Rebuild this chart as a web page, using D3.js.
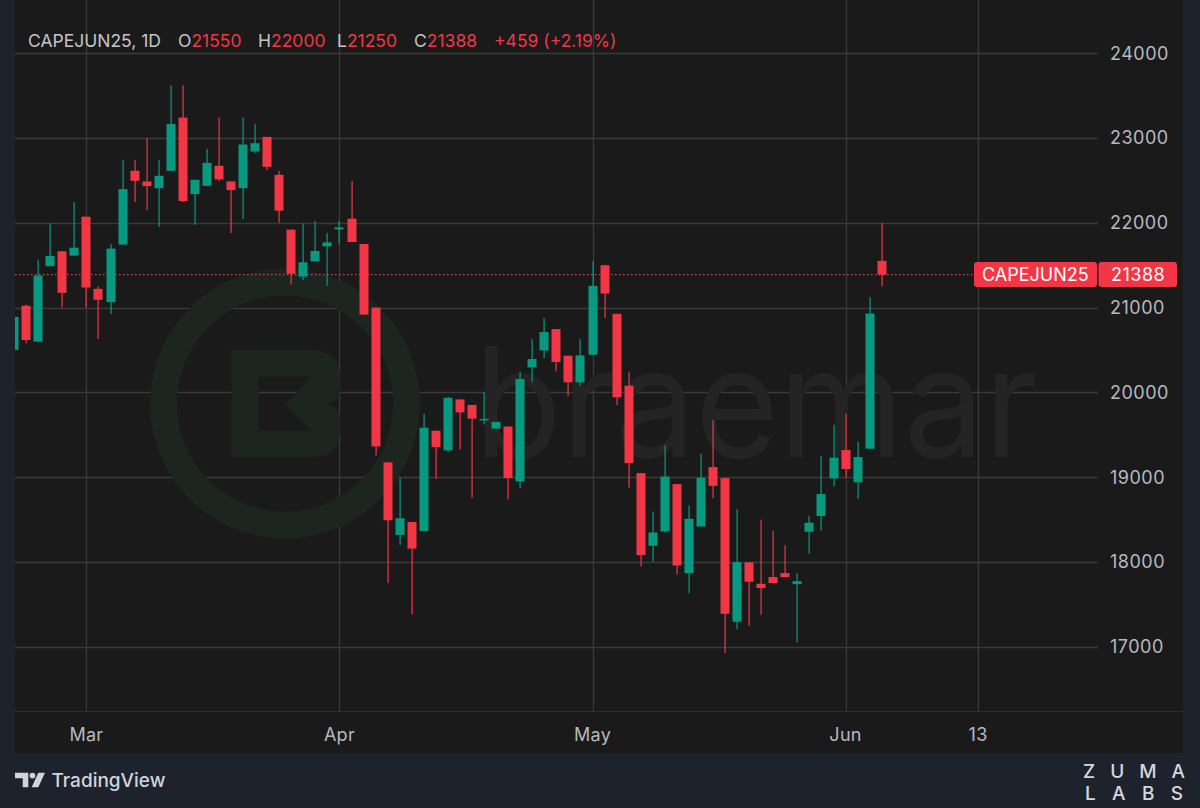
<!DOCTYPE html>
<html>
<head>
<meta charset="utf-8">
<script src="https://cdn.jsdelivr.net/npm/d3@7"></script>
<style>
body { margin: 0; background: #1e222d; }
svg { display: block; font-family: Inter, "Noto Sans", sans-serif; }
</style>
</head>
<body>
<script>
// CAPEJUN25 daily candles
const symbol = "CAPEJUN25";
const interval = "1D";

const dates = [
    "2025-02-21", "2025-02-24", "2025-02-25", "2025-02-26", "2025-02-27", "2025-02-28",
    "2025-03-03", "2025-03-04", "2025-03-05", "2025-03-06", "2025-03-07",
    "2025-03-10", "2025-03-11", "2025-03-12", "2025-03-13", "2025-03-14",
    "2025-03-17", "2025-03-18", "2025-03-19", "2025-03-20", "2025-03-21",
    "2025-03-24", "2025-03-25", "2025-03-26", "2025-03-27", "2025-03-28", "2025-03-31",
    "2025-04-01", "2025-04-02", "2025-04-03", "2025-04-04",
    "2025-04-07", "2025-04-08", "2025-04-09", "2025-04-10", "2025-04-11",
    "2025-04-14", "2025-04-15", "2025-04-16", "2025-04-17",
    "2025-04-21", "2025-04-22", "2025-04-23", "2025-04-24", "2025-04-25",
    "2025-04-28", "2025-04-29", "2025-04-30",
    "2025-05-01", "2025-05-02", "2025-05-05", "2025-05-06", "2025-05-07", "2025-05-08", "2025-05-09",
    "2025-05-12", "2025-05-13", "2025-05-14", "2025-05-15", "2025-05-16",
    "2025-05-19", "2025-05-20", "2025-05-21", "2025-05-22", "2025-05-23",
    "2025-05-27", "2025-05-28", "2025-05-29", "2025-05-30",
    "2025-06-02", "2025-06-03", "2025-06-04", "2025-06-05"
];

const opens = [
    20500, 21020, 20597, 21487, 21663, 21612,
    22071, 21220, 21064, 21742, 22612,
    22486, 22408, 22612, 23239, 22337,
    22435, 22671, 22486, 22408, 22839,
    23012, 22565, 21918, 21364, 21545, 21721,
    21921, 22047, 21749, 20999,
    19174, 18318, 18471, 18365, 19547,
    19315, 19916, 19851, 19670,
    19572, 19596, 18949, 20294, 20494,
    20745, 20431, 20118,
    20443, 21498, 20925, 20078, 19047, 18190, 18359,
    18917, 17868, 18418, 19118, 18988,
    17294, 17994, 17742, 17821, 17868,
    17738, 18356, 18541, 18985,
    19319, 18938, 19335, 21550
];

const highs = [
    20950, 21035, 21565, 21993, 21663, 22243,
    22071, 21250, 21746, 22741, 22741,
    22996, 22741, 23619, 23619, 22506,
    22871, 23239, 22486, 23239, 23165,
    23012, 22612, 21918, 21992, 22020, 21878,
    22020, 22491, 21749, 20999,
    19174, 18993, 18471, 19747, 19547,
    19947, 19916, 19851, 20004,
    19651, 19596, 20243, 20627, 20875,
    20745, 20431, 20631,
    21549, 21498, 20925, 20243, 19047, 18591, 19373,
    18917, 18666, 19275, 19672, 18988,
    18622, 17994, 18497, 18367, 18198,
    17868, 18545, 19248, 19618,
    19748, 19417, 21123, 22000
];

const lows = [
    20450, 20578, 20597, 21487, 21001, 21612,
    21001, 20628, 20926, 21742, 22243,
    22149, 21949, 22612, 22243, 21977,
    22435, 22490, 21879, 22044, 22820,
    22620, 22000, 21271, 21325, 21545, 21254,
    21753, 21772, 20917, 19253,
    17749, 18201, 17380, 18365, 18978,
    19296, 19327, 18757, 19623,
    19572, 18737, 18870, 20121, 20404,
    20247, 19953, 20078,
    20443, 20875, 19851, 18874, 17946, 18001, 18347,
    17848, 17632, 18418, 18752, 16925,
    17208, 17247, 17377, 17750, 17821,
    17050, 18097, 18368, 18891,
    18997, 18745, 19335, 21250
];

const closes = [
    20890, 20617, 21377, 21608, 21173, 21706,
    21236, 21091, 21695, 22396, 22494,
    22432, 22553, 23165, 22255, 22506,
    22706, 22510, 22385, 22922, 22937,
    22659, 22142, 21397, 21533, 21666, 21768,
    21945, 21772, 20917, 19362,
    18491, 18515, 18157, 19582, 19355,
    19935, 19763, 19690, 19686,
    19651, 18988, 20157, 20392, 20710,
    20357, 20118, 20435,
    21255, 21165, 19941, 19165, 18080, 18347, 19007,
    17958, 18508, 18992, 18897, 17388,
    17997, 17766, 17691, 17750, 17821,
    17773, 18462, 18800, 19229,
    19095, 19236, 20929, 21388
];

const priceTicks = [17000, 18000, 19000, 20000, 21000, 22000, 23000, 24000];
const timeTickLabels = ["Mar", "Apr", "May", "Jun", "13"];
const timeTickIndex = [6, 27, 48, 69, 80];   // bar slot of each label ("13" is a future slot)

const width = 1200;
const height = 808;
const panelLeft = 15, panelRight = 1183, panelBottom = 753;
const plotRight = 1098, plotBottom = 711;

const green = "#089981";
const red = "#f23645";
const gridColor = "#3a3a3a";
const textColor = "#b6b9c0";

const svg = d3.select("body")
    .append("svg")
    .attr("width", width)
    .attr("height", height);

// frame + chart background
svg.append("rect").attr("width", width).attr("height", height).attr("fill", "#1e222d");
svg.append("rect")
    .attr("x", panelLeft).attr("y", 0)
    .attr("width", panelRight - panelLeft).attr("height", panelBottom)
    .attr("fill", "#1a1a1a");

const x = d3.scaleLinear().domain([0, 80]).range([14.1, 978.1]);
const y = d3.scaleLinear().domain([17000, 24000]).range([646.7, 53.1]);

// grid
svg.append("g")
    .selectAll("line")
    .data(priceTicks)
    .enter()
    .append("line")
    .attr("x1", panelLeft).attr("x2", plotRight)
    .attr("y1", d => Math.round(y(d)) + 0.5).attr("y2", d => Math.round(y(d)) + 0.5)
    .attr("stroke", gridColor).attr("stroke-width", 1.3);

svg.append("g")
    .selectAll("line")
    .data(timeTickIndex)
    .enter()
    .append("line")
    .attr("x1", d => Math.round(x(d)) + 0.5).attr("x2", d => Math.round(x(d)) + 0.5)
    .attr("y1", 0).attr("y2", plotBottom)
    .attr("stroke", gridColor).attr("stroke-width", 1.3);

// braemar watermark
const wm = svg.append("g");
wm.append("circle")
    .attr("cx", 285).attr("cy", 403.5).attr("r", 121.5)
    .attr("fill", "none").attr("stroke", "#1c2520").attr("stroke-width", 27);
wm.append("path")
    .attr("d", "M231.7,350 H311 Q340,350 340,377 V390 Q340,400 326,404 Q340,408 340,418 V430 Q340,457.3 311,457.3 H231.7 Z" +
               " M258.3,376.7 H311.7 L285,404 L311.7,430.7 H258.3 Z")
    .attr("fill", "#1c2520").attr("fill-rule", "evenodd");
wm.append("text")
    .attr("x", 474).attr("y", 457)
    .attr("textLength", 564).attr("lengthAdjust", "spacingAndGlyphs")
    .style("font-size", "152px")
    .attr("fill", "#242424")
    .text("braemar");

// time axis separator
svg.append("line")
    .attr("x1", panelLeft).attr("x2", panelRight)
    .attr("y1", plotBottom + 0.5).attr("y2", plotBottom + 0.5)
    .attr("stroke", "#2a2e39").attr("stroke-width", 1);

const data = dates.map((d, i) => ({
    i: i, date: d, o: opens[i], h: highs[i], l: lows[i], c: closes[i]
}));
const last = data[data.length - 1];
const prev = data[data.length - 2];

// last price dotted line
svg.append("line")
    .attr("x1", panelLeft).attr("x2", 974)
    .attr("y1", y(last.c)).attr("y2", y(last.c))
    .attr("stroke", red).attr("stroke-width", 1.2)
    .attr("stroke-dasharray", "1.5,2.5");

// candles
svg.append("clipPath").attr("id", "plotClip")
    .append("rect")
    .attr("x", panelLeft).attr("y", 0)
    .attr("width", plotRight - panelLeft).attr("height", plotBottom);

const candles = svg.append("g").attr("clip-path", "url(#plotClip)");
const color = d => d.c >= d.o ? green : red;

candles.selectAll(".wick")
    .data(data)
    .enter()
    .append("rect")
    .attr("class", "wick")
    .attr("x", d => Math.round(x(d.i)) - 0.5)
    .attr("y", d => y(d.h))
    .attr("width", 1.2)
    .attr("height", d => y(d.l) - y(d.h))
    .attr("fill", color);

candles.selectAll(".body")
    .data(data)
    .enter()
    .append("rect")
    .attr("class", "body")
    .attr("x", d => Math.round(x(d.i)) - 4.5)
    .attr("y", d => y(Math.max(d.o, d.c)))
    .attr("width", 9)
    .attr("height", d => Math.max(1.5, Math.abs(y(d.o) - y(d.c))))
    .attr("fill", color);

// price axis labels
svg.append("g")
    .selectAll("text")
    .data(priceTicks)
    .enter()
    .append("text")
    .attr("x", 1110)
    .attr("y", d => y(d))
    .attr("dy", "0.36em")
    .style("font-size", "18px")
    .style("letter-spacing", "0.5px")
    .attr("fill", textColor)
    .text(d => d);

// time axis labels
svg.append("g")
    .selectAll("text")
    .data(timeTickLabels)
    .enter()
    .append("text")
    .attr("x", (d, k) => x(timeTickIndex[k]))
    .attr("y", 741)
    .style("text-anchor", "middle")
    .style("font-size", "18px")
    .style("letter-spacing", "0.3px")
    .attr("fill", textColor)
    .text(d => d);

// last price tags
const tagY = y(last.c);
svg.append("rect")
    .attr("x", 974).attr("y", tagY - 12.5)
    .attr("width", 123).attr("height", 25).attr("rx", 3)
    .attr("fill", red);
svg.append("rect")
    .attr("x", 1098.5).attr("y", tagY - 12.5)
    .attr("width", 78.5).attr("height", 25).attr("rx", 3)
    .attr("fill", red);
svg.append("text")
    .attr("x", 982).attr("y", tagY).attr("dy", "0.36em")
    .style("font-size", "18px")
    .attr("fill", "white")
    .text(symbol);
svg.append("text")
    .attr("x", 1111).attr("y", tagY).attr("dy", "0.36em")
    .style("font-size", "18px")
    .style("letter-spacing", "0.5px")
    .attr("fill", "white")
    .text(last.c);

// legend header
const change = last.c - prev.c;
const pct = change / prev.c * 100;
const headerParts = [
    { x: 28, parts: [[symbol + ", " + interval, "#c4c6cc"]] },
    { x: 178, parts: [["O", "#c4c6cc"], [last.o, red]] },
    { x: 258, parts: [["H", "#c4c6cc"], [last.h, red]] },
    { x: 337, parts: [["L", "#c4c6cc"], [last.l, red]] },
    { x: 414, parts: [["C", "#c4c6cc"], [last.c, red]] },
    { x: 494, parts: [[(change >= 0 ? "+" : "") + change + " (" + (change >= 0 ? "+" : "") + pct.toFixed(2) + "%)", red]] }
];
headerParts.forEach(g => {
    const t = svg.append("text")
        .attr("x", g.x).attr("y", 47)
        .style("font-size", "17.5px");
    g.parts.forEach(p => t.append("tspan").attr("fill", p[1]).text(p[0]));
});

// TradingView logo
const tv = svg.append("g").attr("fill", "#d1d4dc");
tv.append("path").attr("d", "M15,772.7 H28.3 V787.3 H22.7 V778.3 H15 Z");
tv.append("circle").attr("cx", 32.5).attr("cy", 775.6).attr("r", 2.9);
tv.append("path").attr("d", "M31.7,787.3 L38.3,772.7 H45 L38.3,787.3 Z");
svg.append("text")
    .attr("x", 51.5).attr("y", 787)
    .style("font-size", "19px").style("font-weight", 500)
    .attr("fill", "#d1d4dc")
    .text("TradingView");

// ZUMA LABS
svg.append("text")
    .attr("x", 1083).attr("y", 777.5)
    .attr("textLength", 102).attr("lengthAdjust", "spacing")
    .style("font-size", "19px").style("font-weight", 500)
    .attr("fill", "#d6d7db")
    .text("ZUMA");
svg.append("text")
    .attr("x", 1085).attr("y", 800)
    .attr("textLength", 98).attr("lengthAdjust", "spacing")
    .style("font-size", "19px").style("font-weight", 500)
    .attr("fill", "#d6d7db")
    .text("LABS");
</script>
</body>
</html>
